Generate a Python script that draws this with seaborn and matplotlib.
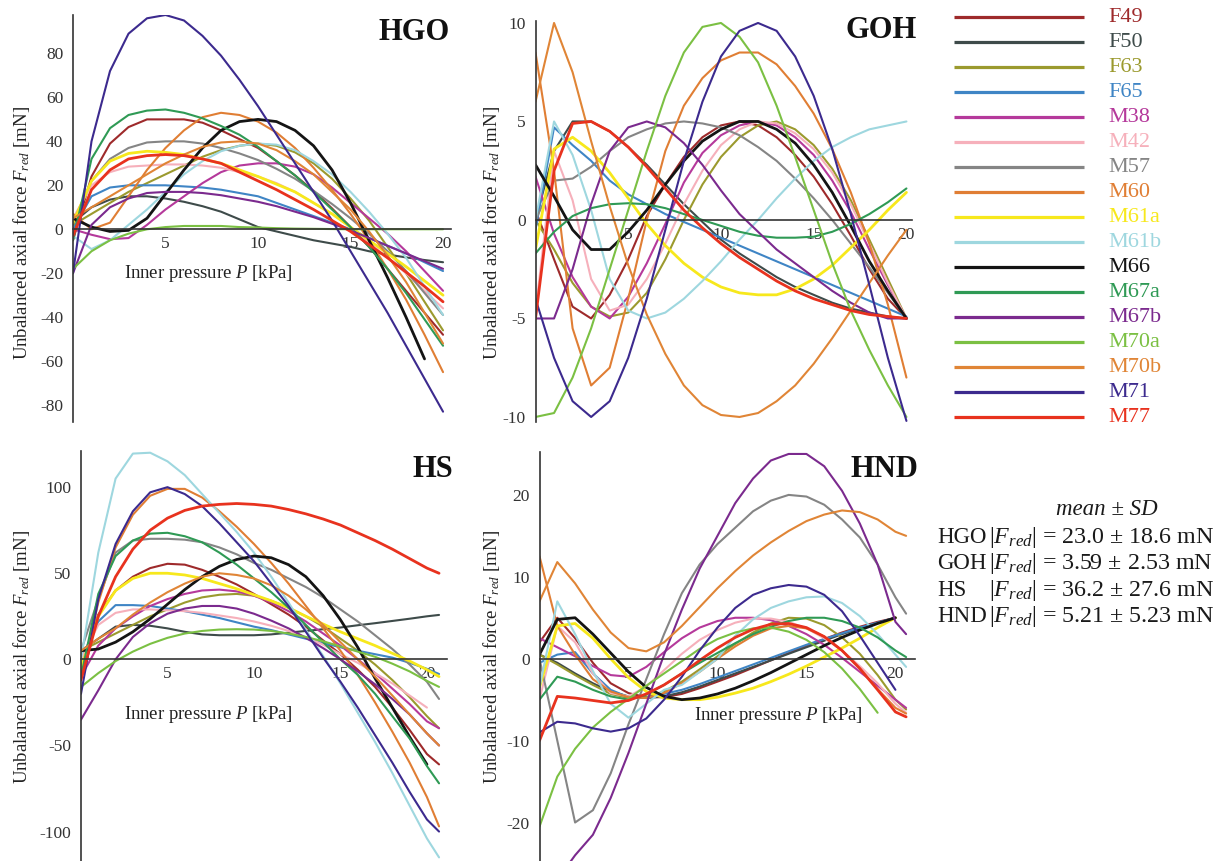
import numpy as np
import pandas as pd
import matplotlib
matplotlib.use("Agg")
import matplotlib.pyplot as plt
import seaborn as sns

W, H = 1224, 861
NaN = np.nan

samples = ["F49", "F50", "F63", "F65", "M38", "M42", "M57", "M60", "M61a",
           "M61b", "M66", "M67a", "M67b", "M70a", "M70b", "M71", "M77"]
colors = ["#9e2a2b", "#3e4b4a", "#9b9a2e", "#3f85c5", "#b5399b", "#f6b0bb",
          "#858585", "#e07e34", "#f7e81c", "#9ed7df", "#141414", "#2f9a55",
          "#7b2a8e", "#7bc043", "#e08536", "#3c2a8e", "#e8321e"]
pressure = [0, 1, 2, 3, 4, 5, 6, 7, 8, 9, 10, 11, 12, 13, 14, 15, 16, 17, 18, 19, 20]

# ---- HGO model, F_red [mN] at P = 0..20 kPa
hgo_f49 = [-5, 24, 39, 46.5, 50, 50, 50, 48.5, 45, 41, 37, 31, 24.5, 17.5, 9.5, 1, -8, -18, -28, -38, -48]
hgo_f50 = [3, 10, 13.5, 15, 15, 14, 12.5, 10.5, 8, 4.5, 1, -1, -3, -5, -6.5, -8, -10, -11.5, -12.8, -14, -15]
hgo_f63 = [2, 7, 12, 17, 21, 25, 29, 33, 36, 38, 39, 38, 35, 30, 23, 14, 4, -8, -20, -33, -46]
hgo_f65 = [0, 15, 19, 20, 20, 20, 19.5, 19, 18, 16.5, 15, 12, 9, 6, 3, 0, -4, -7.5, -11, -15, -19]
hgo_m38 = [0, -2.5, -4.5, -4, 2, 9, 15, 21, 26, 29, 30, 30, 28.5, 25, 19, 12, 5, -2, -10, -19, -28]
hgo_m42 = [5, 20, 26, 28.5, 29, 29.5, 29.5, 29, 28, 26, 24, 21, 17, 12, 7, 1, -6, -13, -20, -28, -36]
hgo_m57 = [3, 22, 32, 37, 39.5, 40, 40, 39, 37, 34.5, 31.5, 27.5, 23, 17.5, 11.5, 5, -2, -10, -19, -29, -39]
hgo_m60 = [7, 0, 3, 15, 27, 37, 45, 51, 53, 52, 49, 44, 37, 28, 18, 7, -5, -18, -32, -48, -65]
hgo_m61a = [3, 22, 31, 34.5, 35.5, 35, 34, 32, 30, 27, 24, 20.5, 17, 12, 7, 1, -5, -11, -17, -23.5, -30]
hgo_m61b = [-3, -9, -5, 2, 9, 17, 25, 31, 35.5, 38, 39, 38.5, 36, 31, 25, 17, 8, -2, -13, -26, -39]
hgo_m66 = [5, 1, -1, -0.5, 5, 16, 27, 37, 45, 49, 50, 49, 45, 38, 27, 12, -5, -22, -40, -59, NaN]
hgo_m67a = [-5, 32, 46, 52, 54, 54.5, 53, 50.5, 47, 43, 37.5, 31, 24.5, 17, 9, 1, -8, -18, -29, -41, -53]
hgo_m67b = [-20, 2, 10, 14, 16.5, 17, 17, 16.5, 15.5, 14, 12.5, 10.5, 8, 5.5, 2.5, -0.5, -4, -7.5, -11, -14.5, -18]
hgo_m70a = [-18, -10, -5, -2, 0, 1, 1.5, 1.5, 1.5, 1, 0.8, 0.5, 0.3, 0.2, 0.1, 0, 0, 0, 0, 0, 0]
hgo_m70b = [5, 10, 15, 20, 25, 30, 34, 37.5, 39.5, 40, 39, 36, 31, 25, 17, 9, -1, -12, -24, -38, -52]
hgo_m71 = [-20, 40, 72, 89, 96, 97.5, 95, 88, 79, 68, 56, 43, 30, 17, 4, -10, -24, -38, -53, -68, -83]
hgo_m77 = [-3, 18, 27, 32, 33.5, 34, 33.5, 32, 30, 26, 22, 18, 13.5, 9, 4, -1, -7, -13, -19.5, -26, -33]

# ---- GOH model
goh_f49 = [0.5, -2, -4.4, -5, -3.8, -2, 0.2, 1.8, 3.2, 4.2, 4.8, 5, 4.8, 4.2, 3.3, 2.2, 0.8, -0.8, -2.5, -4, -5]
goh_f50 = [0, 3.5, 5, 5, 4.5, 3.7, 2.8, 1.8, 0.8, -0.1, -1, -1.7, -2.3, -2.9, -3.4, -3.8, -4.2, -4.5, -4.7, -4.9, -5]
goh_f63 = [0, -1.5, -3.2, -4.4, -4.9, -4.7, -3.7, -2, 0, 1.8, 3.2, 4.2, 4.8, 5, 4.6, 3.8, 2.6, 1, -1, -3, -5]
goh_f65 = [-0.5, 4.7, 3.8, 3, 2, 1.3, 0.8, 0.3, -0.1, -0.5, -0.9, -1.3, -1.7, -2.1, -2.5, -2.9, -3.3, -3.7, -4.1, -4.5, -4.9]
goh_m38 = [2.2, -0.7, -2.9, -4.4, -5, -3.9, -2.2, -0.2, 1.9, 3.4, 4.3, 4.8, 5, 4.8, 4.2, 3.3, 2, 0.4, -1.5, -3.3, -5]
goh_m42 = [-4.7, 3.5, 1, -3, -4.6, -4.3, -3, -1.2, 0.8, 2.5, 3.8, 4.6, 5, 4.9, 4.4, 3.6, 2.4, 0.8, -1.2, -3.2, -5]
goh_m57 = [0, 2, 2.1, 2.7, 3.5, 4.2, 4.6, 4.9, 5, 4.9, 4.7, 4.3, 3.7, 3, 2.1, 1.1, 0, -1.2, -2.4, -3.7, -5]
goh_m60 = [8.5, 2.5, -5.5, -8.4, -7.5, -4, 0, 3.5, 5.8, 7.2, 8.1, 8.5, 8.5, 7.9, 6.8, 5.4, 3.6, 1.4, -1.2, -4.3, -8]
goh_m61a = [-1.5, 3.6, 4.2, 3.5, 2.4, 1.1, -0.2, -1.3, -2.2, -2.9, -3.4, -3.7, -3.8, -3.8, -3.5, -3, -2.3, -1.4, -0.5, 0.5, 1.4]
goh_m61b = [0, 5, 3.3, 0.5, -3, -4.6, -5, -4.7, -4, -3.1, -2.1, -1, 0, 1.1, 2.1, 3, 3.7, 4.2, 4.6, 4.8, 5]
goh_m66 = [2.8, 1.2, -0.5, -1.5, -1.5, -0.6, 0.5, 1.8, 3, 4, 4.6, 5, 5, 4.6, 3.9, 2.8, 1.4, -0.3, -2.1, -3.6, -5]
goh_m67a = [-1.7, -0.6, 0.2, 0.6, 0.8, 0.85, 0.8, 0.6, 0.3, 0, -0.3, -0.6, -0.8, -0.9, -0.9, -0.85, -0.6, -0.2, 0.3, 0.9, 1.6]
goh_m67b = [-5, -5, -2.5, 0.8, 3.5, 4.7, 5, 4.7, 3.9, 2.8, 1.5, 0.3, -0.6, -1.5, -2.2, -2.9, -3.6, -4.2, -4.7, -5, -5]
goh_m70a = [-10, -9.8, -8, -5.5, -2.5, 0.5, 3.5, 6.3, 8.5, 9.8, 10, 9.3, 8, 5.8, 3.2, 0.5, -2.2, -4.6, -6.6, -8.4, -10]
goh_m70b = [6, 10, 7.5, 4, 0.7, -2.3, -4.8, -6.8, -8.4, -9.4, -9.9, -10, -9.8, -9.2, -8.4, -7.3, -6, -4.6, -3.2, -1.8, -0.5]
goh_m71 = [-4, -7, -9.2, -10, -9.2, -7, -4, -0.5, 3, 6, 8.3, 9.6, 10, 9.6, 8.3, 6.3, 3.6, 0.3, -3.3, -7, -10.2]
goh_m77 = [-5, 2.5, 4.9, 5, 4.5, 3.7, 2.7, 1.6, 0.5, -0.4, -1.2, -1.9, -2.5, -3.1, -3.6, -4, -4.3, -4.6, -4.8, -4.9, -5]

# ---- HS model
hs_f49 = [-5, 26, 40, 48, 53, 55.5, 55, 52, 48, 43.5, 38, 32, 26, 19, 11, 3, -6, -16, -28, -41, -55]
hs_f50 = [5, 12, 19, 20, 19.5, 18, 16, 14.5, 14, 14, 14, 14.5, 15.5, 16.5, 17.5, 18.5, 19.8, 21, 22.3, 23.6, 25]
hs_f63 = [5, 10, 15, 20, 25, 29, 33, 36, 37.5, 38, 37, 34, 30, 25, 19, 12, 5, -3, -12, -22, -33]
hs_f65 = [0, 22, 31.5, 31.5, 31, 29.5, 28, 26, 24, 21.5, 19, 17, 14.5, 12, 9.5, 7, 5, 3, 1, -2, -5.5]
hs_m38 = [-10, 8, 18, 25, 31, 35, 38, 40, 40.5, 39.5, 37, 33, 28, 22, 15, 8, 0, -8, -17, -26, -36]
hs_m42 = [0, 20, 27, 29, 29, 28.5, 28, 27, 25.5, 24, 22, 19.5, 16.5, 13, 8.5, 3, -2, -8, -14, -21, -28]
hs_m57 = [5, 35, 62, 69, 70, 70, 69.5, 68, 65, 61, 56, 52, 47, 42, 36, 29, 22, 14, 6, -3, -13]
hs_m60 = [-10, 33, 65, 84, 95, 99, 99, 94, 86, 77, 67, 56, 44, 31, 18, 5, -9, -25, -42, -60, -80]
hs_m61a = [-5, 25, 40, 47, 50, 50, 49, 47, 44, 41, 37.5, 34, 30, 25, 20.5, 16, 12, 8, 3.5, -1, -6]
hs_m61b = [0, 62, 105, 119.5, 120, 115, 107, 96, 85, 74, 62, 48, 33, 17, 2, -14, -31, -48, -66, -85, -104]
hs_m66 = [5, 6, 10, 16, 23.5, 32, 40.5, 48, 54, 58, 60, 59, 55, 48, 37, 23, 7, -11, -28, -45, -61]
hs_m67a = [-10, 38, 60, 69, 73, 73.5, 71.5, 68, 62, 55, 47, 39, 30, 20, 10, 0, -9, -20, -33, -46, -62]
hs_m67b = [-35, -18, 0, 13, 21, 26.5, 29.5, 31, 31, 29.5, 26.5, 22.5, 18, 12.5, 6.5, 0, -7, -14.5, -23, -32, -43]
hs_m70a = [-16, -8, -1, 4.5, 9, 12.5, 15, 16.5, 17.3, 17.5, 17.3, 16.5, 15, 13, 10.5, 7.5, 4.5, 1.5, -2.5, -7, -12.5]
hs_m70b = [5, 12, 18, 26, 33, 39, 44, 48, 50, 49, 47, 43, 37, 29, 20, 10, 0, -10, -21, -32, -43]
hs_m71 = [-20, 35, 67, 86, 97, 100, 96, 89, 79, 68, 57, 44, 31, 16, 1, -13, -28, -44, -60, -77, -93]
hs_m77 = [-12, 25, 48, 64, 75, 82, 86.5, 89, 90, 90.5, 90, 89, 87, 84.5, 81.5, 78, 73.5, 69, 64, 58.5, 53]
# last points of the HS curves, at P = 20.7 kPa (same sample order)
hs_tail_p = 20.7
hs_tail = [-61, 25.8, -40, -8.5, -40, NaN, -23, -97, -10, -115, NaN, -72, -50, -16, -50, -100, 50]

# ---- HND model
hnd_f49 = [2, 5, 2.5, -0.5, -3, -4.2, -4.7, -4.7, -4.3, -3.6, -2.8, -2, -1.1, -0.2, 0.7, 1.6, 2.4, 3.2, 3.9, 4.5, 5]
hnd_f50 = [0.5, -0.5, -1.8, -3, -4, -4.6, -4.8, -4.6, -4.1, -3.4, -2.6, -1.8, -1, -0.2, 0.6, 1.4, 2.2, 3, 3.7, 4.4, 5]
hnd_f63 = [0.5, -0.7, -2, -3.2, -4.3, -4.8, -4.7, -4, -2.8, -1.3, 0.3, 1.8, 3.2, 4.3, 5, 4.9, 4.1, 2.6, 0.6, -2, -5]
hnd_f65 = [-0.5, 0.5, 0.8, -1.8, -3.8, -4.7, -4.8, -4.3, -3.8, -3.1, -2.3, -1.5, -0.7, 0.1, 0.9, 1.7, 2.4, 3.1, 3.8, 4.4, 5]
hnd_m38 = [2.5, 1.4, 0.3, -0.9, -2, -2.2, -1, 0.8, 2.5, 3.8, 4.6, 5, 5, 4.7, 4, 3, 1.7, 0.1, -1.6, -3.3, -5]
hnd_m42 = [-5, 4, 2, -1.8, -4.2, -4.6, -3.4, -1.4, 0.6, 2.3, 3.5, 4.4, 4.9, 4.9, 4.5, 3.7, 2.5, 1, -0.9, -3, -5.5]
hnd_m57 = [0, -10, -20, -18.5, -14, -8, -2.5, 3, 8, 11.5, 14, 16, 18, 19.3, 20, 19.8, 18.8, 17, 14.8, 11.5, 7.5]
hnd_m60 = [12.5, 4, 0.5, -2.5, -4, -4.7, -4.8, -4.2, -3, -1.6, 0, 1.5, 2.8, 3.7, 4, 3.7, 2.7, 1, -1.2, -3.7, -6]
hnd_m61a = [-3.5, 4, 4.3, 2.5, 0, -2.3, -4, -4.8, -5, -5, -4.7, -4.2, -3.6, -2.8, -1.9, -0.9, 0.2, 1.3, 2.5, 3.8, 5]
hnd_m61b = [-3.5, 7, 3, -1.5, -5.5, -7.2, -5.5, -3.8, -3.2, -1.6, 0, 2.8, 4.8, 6.2, 7, 7.5, 7.6, 6.8, 5.2, 3, 0.5]
hnd_m66 = [0.5, 4.8, 5, 3, 0.7, -1.6, -3.5, -4.6, -5, -4.8, -4.3, -3.6, -2.7, -1.7, -0.6, 0.5, 1.6, 2.6, 3.5, 4.3, 5]
hnd_m67a = [-5, -2.2, -2.8, -3.8, -4.6, -5, -4.4, -3.2, -1.8, -0.5, 0.7, 1.9, 3, 3.9, 4.6, 5, 5, 4.6, 3.8, 2.6, 1]
hnd_m67b = [-30, -27, -24, -21.5, -17, -11.5, -5.5, 0.5, 6, 11, 15, 19, 22, 24.2, 25, 25, 23.5, 20.5, 16.5, 11.5, 4.5]
hnd_m70a = [-20.5, -14.4, -11, -8.4, -6.5, -4.9, -3.3, -1.8, -0.3, 1.2, 2.4, 3.2, 3.7, 3.8, 3.3, 2.3, 0.8, -1.2, -3.7, -6.6, NaN]
hnd_m70b = [7, 11.8, 9.2, 6, 3.2, 1.3, 0.9, 2, 4, 6.3, 8.6, 10.7, 12.6, 14.2, 15.6, 16.8, 17.6, 18.1, 17.9, 17, 15.5]
hnd_m71 = [-9, -7.7, -7.9, -8.5, -8.9, -8.5, -7.3, -5, -2.2, 1, 3.8, 6.2, 7.8, 8.6, 9, 8.8, 7.8, 5.8, 2.8, -0.5, -3.8]
hnd_m77 = [-10, -4.6, -4.8, -5.1, -5.4, -5.1, -4.3, -3.2, -1.8, -0.2, 1.3, 2.6, 3.6, 4.2, 4.3, 3.8, 2.7, 1, -1.2, -3.8, -6.5]
# last points of the HND curves, at P = 20.6 kPa
hnd_tail_p = 20.6
hnd_tail = [NaN, NaN, -6.2, NaN, -6, -6.6, 5.5, -6.7, NaN, -1, NaN, 0.2, 3, NaN, 15, NaN, -7.1]

hgo = [hgo_f49, hgo_f50, hgo_f63, hgo_f65, hgo_m38, hgo_m42, hgo_m57, hgo_m60, hgo_m61a,
       hgo_m61b, hgo_m66, hgo_m67a, hgo_m67b, hgo_m70a, hgo_m70b, hgo_m71, hgo_m77]
goh = [goh_f49, goh_f50, goh_f63, goh_f65, goh_m38, goh_m42, goh_m57, goh_m60, goh_m61a,
       goh_m61b, goh_m66, goh_m67a, goh_m67b, goh_m70a, goh_m70b, goh_m71, goh_m77]
hs = [hs_f49, hs_f50, hs_f63, hs_f65, hs_m38, hs_m42, hs_m57, hs_m60, hs_m61a,
      hs_m61b, hs_m66, hs_m67a, hs_m67b, hs_m70a, hs_m70b, hs_m71, hs_m77]
hnd = [hnd_f49, hnd_f50, hnd_f63, hnd_f65, hnd_m38, hnd_m42, hnd_m57, hnd_m60, hnd_m61a,
       hnd_m61b, hnd_m66, hnd_m67a, hnd_m67b, hnd_m70a, hnd_m70b, hnd_m71, hnd_m77]

stats_models = ["HGO", "GOH", "HS", "HND"]
stats_text = ["23.0 ± 18.6 mN", "3.59 ± 2.53 mN", "36.2 ± 27.6 mN", "5.21 ± 5.23 mN"]

sns.set_theme(style="white")
plt.rcParams["font.family"] = ["Liberation Serif", "DejaVu Serif"]
plt.rcParams["mathtext.fontset"] = "custom"
plt.rcParams["mathtext.rm"] = "Liberation Serif"
plt.rcParams["mathtext.it"] = "Liberation Serif:italic"
plt.rcParams["mathtext.bf"] = "Liberation Serif:bold"
plt.rcParams["axes.unicode_minus"] = False

palette = dict(zip(samples, colors))
widths = {s: 1.5 for s in samples}
for s in ["M66", "M77", "M61a"]:
    widths[s] = 2.0

fig = plt.figure(figsize=(W / 100, H / 100), dpi=100)


def fbox(left, top, right, bottom):
    return [left / W, 1 - bottom / H, (right - left) / W, (bottom - top) / H]


def long_frame(curves, tail=None, tail_p=None):
    rows = []
    for s, c, t in zip(samples, curves, tail if tail else [None] * len(samples)):
        ps = list(pressure)
        vals = list(c)
        if tail is not None and not np.isnan(t):
            ps.append(tail_p)
            vals.append(t)
        rows += [(p, v, s) for p, v in zip(ps, vals)]
    return pd.DataFrame(rows, columns=["P", "F", "sample"])


# (name, frame, pixel box, xlim, ylim, yticks, title pos, xlabel pos, ylabel pos)
panels = [
    ("HGO", long_frame(hgo), (73, 15, 451, 422), (0, 20.43), (-87.7, 97.5),
     [-80, -60, -40, -20, 0, 20, 40, 60, 80], (450, 40), (208, 278), (21.5, 233)),
    ("GOH", long_frame(goh), (535.5, 21, 912, 421.7), (0, 20.3), (-10.24, 10.1),
     [-10, -5, 0, 5, 10], (917, 38), None, (491.5, 233)),
    ("HS", long_frame(hs, hs_tail, hs_tail_p), (81, 451, 447, 861), (0, 21.16), (-117.1, 121),
     [-100, -50, 0, 50, 100], (453, 477), (208, 719), (21.5, 657)),
    ("HND", long_frame(hnd, hnd_tail, hnd_tail_p), (539.5, 451.5, 915, 861), (0, 21.1), (-24.7, 25.3),
     [-20, -10, 0, 10, 20], (918, 477), (778, 720), (491.5, 657)),
]

for name, df, box, xlim, ylim, yticks, tpos, xlpos, ylpos in panels:
    ax = fig.add_axes(fbox(*box))
    sns.lineplot(data=df, x="P", y="F", hue="sample", hue_order=samples, palette=palette,
                 size="sample", size_order=samples, sizes=widths, estimator=None,
                 legend=False, ax=ax)
    ax.set_xlim(*xlim)
    ax.set_ylim(*ylim)
    ax.set_xlabel("")
    ax.set_ylabel("")
    ax.patch.set_alpha(0)
    ax.spines["top"].set_visible(False)
    ax.spines["right"].set_visible(False)
    ax.spines["bottom"].set_position(("data", 0))
    for sp in ["left", "bottom"]:
        ax.spines[sp].set_color("#333333")
        ax.spines[sp].set_linewidth(1.2)
    ax.set_xticks([5, 10, 15, 20])
    ax.set_yticks(yticks)
    ax.tick_params(axis="both", length=2, width=0.8, color="#333333",
                   labelsize=12.5, labelcolor="#333333", direction="in")
    ax.tick_params(axis="x", pad=5)
    ax.tick_params(axis="y", pad=7)
    fig.text(tpos[0] / W, 1 - tpos[1] / H, name, ha="right", va="baseline",
             fontsize=22, fontweight="bold", color="#111111")
    if xlpos is not None:
        fig.text(xlpos[0] / W, 1 - xlpos[1] / H, "Inner pressure $P$ [kPa]",
                 ha="center", va="baseline", fontsize=13.5, color="#222222")
    fig.text(ylpos[0] / W, 1 - ylpos[1] / H, "Unbalanced axial force $F_{red}$ [mN]",
             ha="center", va="center", rotation=90, fontsize=13.5, color="#222222")

# legend and statistics drawn in pixel coordinates
lax = fig.add_axes([0, 0, 1, 1])
lax.set_xlim(0, W)
lax.set_ylim(H, 0)
lax.axis("off")
for i, (s, c) in enumerate(zip(samples, colors)):
    y = 17.3 + 25 * i
    lax.plot([954, 1084], [y, y], color=c, lw=2.3, solid_capstyle="butt")
    lax.text(1108, y + 4.5, s, color=c, fontsize=16, va="baseline", ha="left")

lax.text(1107, 515, "mean ± SD", fontsize=16.5, fontstyle="italic", ha="center",
         va="baseline", color="#1a1a1a")
for i, (m, t) in enumerate(zip(stats_models, stats_text)):
    y = 543 + 26.3 * i
    lax.text(937, y, m, fontsize=16.5, ha="left", va="baseline", color="#1a1a1a")
    lax.text(989, y, "$|F_{red}|$ = " + t, fontsize=17.3, ha="left", va="baseline",
             color="#1a1a1a")

fig.savefig("out.png", dpi=100, facecolor="white")
